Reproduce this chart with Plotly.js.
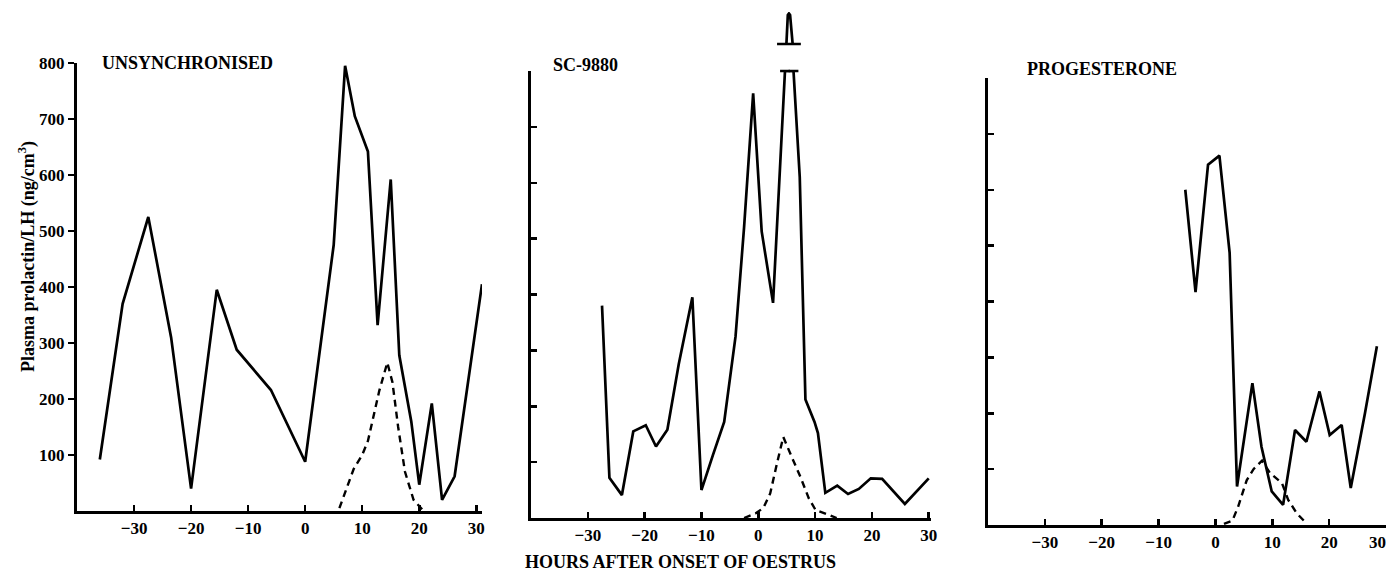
<!DOCTYPE html>
<html>
<head>
<meta charset="utf-8">
<script src="https://cdn.plot.ly/plotly-3.0.1.min.js"></script>
<style>html,body{margin:0;padding:0;background:#fff;}#chart{width:1388px;height:578px;}</style>
</head>
<body>
<div id="chart"></div>
<script>
// ---------------- data (hours after onset of oestrus, ng/cm3) ----------------
const xTicks = [-30, -20, -10, 0, 10, 20, 30];
const xTickText = ['\u221230', '\u221220', '\u221210', '0', '10', '20', '30'];
// last panel: "30" sits against the right edge, nudged left so it stays readable
const xTickTextLast = ['\u221230', '\u221220', '\u221210', '0', '10', '20', '30\u2002\u2002'];
const yTicks = [100, 200, 300, 400, 500, 600, 700, 800];
const yTickText = ['100', '200', '300', '400', '500', '600', '700', '800'];

const panelTitles = ['UNSYNCHRONISED', 'SC-9880', 'PROGESTERONE'];

// Unsynchronised: prolactin (solid) and LH (dashed)
const unsyncProlX = [-36, -32, -27.5, -23.5, -20, -15.5, -12, -6, 0, 5, 7, 8.7, 11, 12.7, 15, 16.5, 18.6, 20, 22.2, 24, 26.2, 31];
const unsyncProlY = [92, 370, 525, 310, 40, 395, 288, 216, 88, 475, 795, 705, 642, 332, 592, 278, 160, 47, 192, 20, 62, 405];
const unsyncLhX = [6, 8.5, 10, 11, 13, 14.4, 15.3, 16.3, 17.5, 19, 20.5];
const unsyncLhY = [5, 75, 100, 125, 215, 265, 230, 150, 70, 20, 3];

// SC-9880
const scProlX = [-27.5, -26.2, -24, -22, -19.8, -18, -16, -14, -11.6, -10, -8, -6, -4, -2.5, -0.9, 0.6, 2.6, 4.7, 6.2, 7.3, 8.3, 9.9, 10.5, 11.8, 13.9, 15.8, 17.7, 19.8, 21.8, 25.8, 30];
const scProlY = [380, 72, 41, 155, 166, 128, 158, 275, 395, 50, 112, 172, 325, 520, 760, 513, 385, 800, 800, 610, 212, 172, 152, 45, 58, 43, 52, 71, 70, 25, 71];
const scLhX = [-2.5, -0.5, 0.9, 2.1, 3.3, 4.4, 5.9, 7.4, 8.9, 10.1, 11.8, 13.8];
const scLhY = [0, 8, 18, 44, 98, 145, 109, 74, 35, 14, 8, 0];
// off-scale part of the SC-9880 peak (drawn above the broken axis, relative height)
const scPeakX = [4.95, 5.2, 5.4, 5.6, 6.05];
const scPeakY = [0, 0.95, 1, 0.95, 0];
const scBreakX = [4.7, 6.2];
const scBreakY = [800, 800];

// Progesterone
const progProlX = [-5.3, -3.5, -1.3, 0.7, 2.5, 3.8, 6.5, 8.1, 9.9, 11.9, 14, 16, 18.3, 20.1, 22.2, 23.8, 26.3, 28.4];
const progProlY = [600, 417, 645, 661, 487, 69, 254, 140, 60, 36, 170, 149, 239, 161, 179, 66, 200, 320];
const progLhX = [1.5, 3, 4, 5.5, 6.7, 8.2, 9.6, 11.7, 12.8, 14.3, 16];
const progLhY = [2, 8, 33, 80, 100, 115, 93, 75, 45, 21, 3];

// ---------------- layout helpers ----------------
const W = 1388, H = 578;
const FONT = 'Liberation Serif, Times New Roman, serif';
const px = p => p / W;
const py = p => 1 - p / H;

const solid = {color: '#000', width: 2.7};
const dashed = {color: '#000', width: 2.4, dash: '7px,5px'};

const traces = [
  {x: unsyncProlX, y: unsyncProlY, xaxis: 'x', yaxis: 'y', mode: 'lines', line: solid},
  {x: unsyncLhX, y: unsyncLhY, xaxis: 'x', yaxis: 'y', mode: 'lines', line: dashed},
  {x: scProlX, y: scProlY, xaxis: 'x2', yaxis: 'y2', mode: 'lines', line: solid},
  {x: scLhX, y: scLhY, xaxis: 'x2', yaxis: 'y2', mode: 'lines', line: dashed},
  {x: scBreakX, y: scBreakY, xaxis: 'x2', yaxis: 'y2', mode: 'markers', cliponaxis: false,
   marker: {symbol: 'line-ew', size: 7, line: {color: '#000', width: 2.5}}},
  {x: scPeakX, y: scPeakY, xaxis: 'x2', yaxis: 'y4', mode: 'lines', line: solid, cliponaxis: false},
  {x: [scPeakX[2]], y: [0], xaxis: 'x2', yaxis: 'y4', mode: 'markers', cliponaxis: false,
   marker: {symbol: 'line-ew', size: 17, line: {color: '#000', width: 2.5}}},
  {x: progProlX, y: progProlY, xaxis: 'x3', yaxis: 'y3', mode: 'lines', line: solid},
  {x: progLhX, y: progLhY, xaxis: 'x3', yaxis: 'y3', mode: 'lines', line: dashed}
];

function xAxis(domain, range, anchor, labels) {
  return {
    domain: domain, range: range, anchor: anchor,
    tickmode: 'array', tickvals: xTicks, ticktext: labels,
    ticks: 'inside', ticklen: 6, tickwidth: 2.5, tickcolor: '#000',
    showline: true, linewidth: 3, linecolor: '#000',
    showgrid: false, zeroline: false, fixedrange: true,
    ticklabeloverflow: 'allow',
    tickfont: {family: FONT, size: 17, color: '#000', weight: 'bold'}
  };
}
function yAxis(domain, anchor, labels, tickDir) {
  return {
    domain: domain, range: [0, 800], anchor: anchor,
    tickmode: 'array', tickvals: yTicks, ticktext: yTickText,
    showticklabels: labels,
    ticks: tickDir, ticklen: 6, tickwidth: 2.5, tickcolor: '#000',
    showline: true, linewidth: 3, linecolor: '#000',
    showgrid: false, zeroline: false, fixedrange: true,
    tickfont: {family: FONT, size: 17, color: '#000', weight: 'bold'}
  };
}

const layout = {
  width: W, height: H,
  margin: {l: 0, r: 0, t: 0, b: 0, pad: 0},
  paper_bgcolor: '#fff', plot_bgcolor: 'rgba(0,0,0,0)',
  showlegend: false,
  xaxis: xAxis([px(77), px(482)], [-40, 31], 'y', xTickText),
  yaxis: yAxis([py(511), py(63)], 'x', true, 'outside'),
  xaxis2: xAxis([px(531), px(931)], [-40, 30.4], 'y2', xTickText),
  yaxis2: yAxis([py(518), py(71)], 'x2', false, 'inside'),
  xaxis3: xAxis([px(988), px(1386)], [-40, 30], 'y3', xTickTextLast),
  yaxis3: yAxis([py(525), py(78)], 'x3', false, 'inside'),
  yaxis4: {domain: [py(44), py(12)], range: [0, 1.05], anchor: 'x2', visible: false, fixedrange: true},
  annotations: [
    {text: '<b>' + panelTitles[0] + '</b>', xref: 'paper', yref: 'paper', x: px(100), y: py(63),
     xanchor: 'left', yanchor: 'middle', showarrow: false, font: {family: FONT, size: 18, color: '#000'}},
    {text: '<b>' + panelTitles[1] + '</b>', xref: 'paper', yref: 'paper', x: px(551), y: py(65),
     xanchor: 'left', yanchor: 'middle', showarrow: false, font: {family: FONT, size: 18, color: '#000'}},
    {text: '<b>' + panelTitles[2] + '</b>', xref: 'paper', yref: 'paper', x: px(1025), y: py(69),
     xanchor: 'left', yanchor: 'middle', showarrow: false, font: {family: FONT, size: 18, color: '#000'}},
    {text: '<b>HOURS AFTER ONSET OF OESTRUS</b>', xref: 'paper', yref: 'paper', x: px(680), y: py(562),
     xanchor: 'center', yanchor: 'middle', showarrow: false, font: {family: FONT, size: 18, color: '#000'}},
    {text: '<b>Plasma prolactin/LH (ng/cm<sup>3</sup>)</b>', xref: 'paper', yref: 'paper', x: px(27), y: py(257),
     xanchor: 'center', yanchor: 'middle', textangle: -90, showarrow: false, font: {family: FONT, size: 18, color: '#000'}}
  ]
};

Plotly.newPlot('chart', traces, layout, {staticPlot: true, displayModeBar: false});
</script>
</body>
</html>
